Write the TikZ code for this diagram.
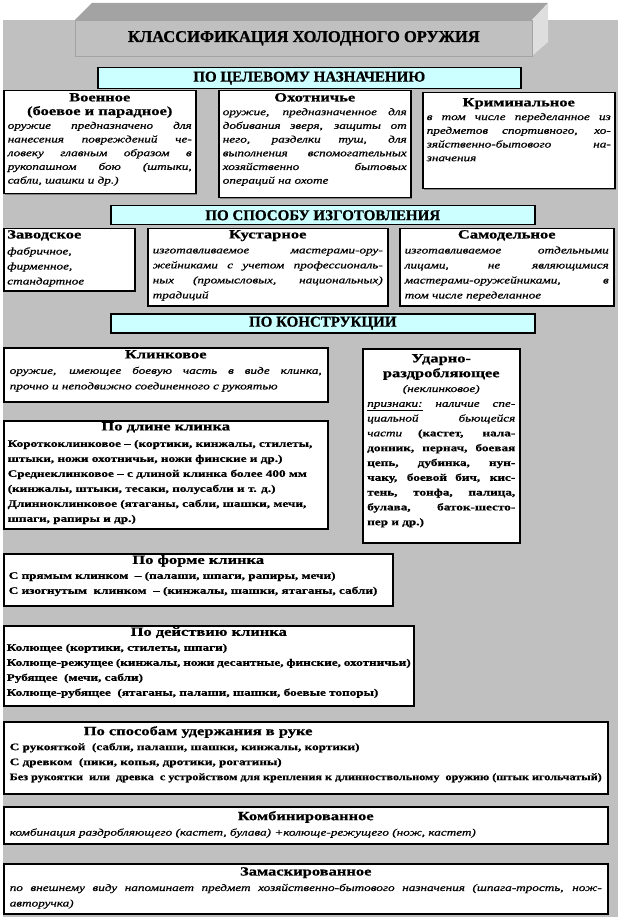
\documentclass[tikz,border=0pt]{standalone}
\usepackage{fontspec}
\usepackage{graphicx}
\setmainfont{Liberation Serif}[FakeStretch=1.32, FakeBold=0.8]
\newfontfamily\capsfont{Liberation Serif}[FakeBold=0.8]
\usetikzlibrary{positioning,shadows}

\definecolor{bggray}{HTML}{C0C0C0}
\definecolor{bandcyan}{HTML}{CCFFFF}
\definecolor{titletop}{HTML}{A3A3A3}
\definecolor{titleside}{HTML}{DEDEDE}
\definecolor{shadegray}{HTML}{808080}

\newcommand{\headfont}{\bfseries\fontsize{12.5}{14}\selectfont}
\newcommand{\bodyfont}{\fontsize{10}{13.7}\selectfont}
\newcommand{\headline}[1]{\centerline{\headfont #1}}

\tikzset{
  panel/.style={draw=black, line width=1.5pt, fill=white, anchor=north west, inner sep=0pt,
    drop shadow={shadow xshift=1.5pt, shadow yshift=-1.5pt, fill=shadegray, opacity=1}},
  band/.style={draw=black, line width=1.5pt, fill=bandcyan, anchor=north west, inner sep=0pt,
    font=\capsfont\bfseries\fontsize{15}{16}\selectfont},
  panelbody/.style={anchor=north, inner sep=0pt, align=justify, font=\bodyfont},
  listbody/.style={panelbody, font=\fontsize{10}{15}\selectfont},
}

\begin{document}
\begin{tikzpicture}[x=1pt,y=-1pt]
  \useasboundingbox (0,0) rectangle (618,917);
  \fill[bggray] (3,20) rectangle (618,917);

  % title block
  \fill[titletop] (75,20) -- (92,3) -- (548,3) -- (532,20) -- cycle;
  \fill[titleside] (532,20) -- (548,3) -- (548,42) -- (532,56) -- cycle;
  \node[draw=titletop, line width=0.6pt, fill=bggray, anchor=north west, inner sep=0pt,
    minimum width=457pt, minimum height=36pt, font=\capsfont\bfseries\fontsize{16.5}{18}\selectfont]
    (title) at (75,20) {КЛАССИФИКАЦИЯ ХОЛОДНОГО ОРУЖИЯ};

  % purpose
  \node[band, minimum width=423pt, minimum height=21pt] (purpose) at (97,67) {ПО ЦЕЛЕВОМУ НАЗНАЧЕНИЮ};

  \node[panel, minimum width=192pt, minimum height=103pt] (military) at (3,90) {};
  \node[panelbody, text width=184pt, below=3pt of military.north] (militarytext) {%
    \headline{Военное}
    \headline{(боевое и парадное)}
    \itshape оружие предназначено для\linebreak нанесения повреждений че-\linebreak ловеку главным образом в\linebreak
    рукопашном бою (штыки,\linebreak сабли, шашки и др.)};

  \node[panel, minimum width=192pt, minimum height=107pt] (hunting) at (218,90) {};
  \node[panelbody, text width=184pt, below=3pt of hunting.north] (huntingtext) {%
    \headline{Охотничье}
    \itshape оружие, предназначенное для\linebreak добивания зверя, защиты от\linebreak него, разделки туш, для\linebreak
    выполнения вспомогательных\linebreak хозяйственно бытовых\linebreak операций на охоте};

  \node[panel, minimum width=192pt, minimum height=96pt] (criminal) at (422,92) {};
  \node[panelbody, text width=184pt, below=6pt of criminal.north] (criminaltext) {%
    \headline{Криминальное}
    \itshape в том числе переделанное из\linebreak предметов спортивного, хо-\linebreak зяйственно-бытового на-\linebreak значения};

  % manufacture
  \node[band, minimum width=424pt, minimum height=19pt] (making) at (110,205) {ПО СПОСОБУ ИЗГОТОВЛЕНИЯ};

  \node[panel, minimum width=131pt, minimum height=62pt] (factory) at (3,228) {};
  \node[panelbody, align=left, font=\fontsize{10}{15}\selectfont, text width=124pt, below=2pt of factory.north] (factorytext) {%
    {\headfont Заводское}\\[1pt]
    \itshape фабричное,\\ фирменное,\\ стандартное};

  \node[panel, minimum width=240pt, minimum height=77pt] (craft) at (147,228) {};
  \node[panelbody, font=\fontsize{10}{15}\selectfont, text width=230pt, below=2pt of craft.north] (crafttext) {%
    \headline{Кустарное}
    \itshape изготавливаемое мастерами-ору-\linebreak жейниками с учетом профессиональ-\linebreak
    ных (промысловых, национальных)\linebreak традиций};

  \node[panel, minimum width=214pt, minimum height=77pt] (homemade) at (399,228) {};
  \node[panelbody, font=\fontsize{10}{15}\selectfont, text width=204pt, below=2pt of homemade.north] (homemadetext) {%
    \headline{Самодельное}
    \itshape изготавливаемое отдельными\linebreak лицами, не являющимися\linebreak
    мастерами-оружейниками, в\linebreak том числе переделанное};

  % construction
  \node[band, minimum width=424pt, minimum height=19pt] (design) at (110,313) {ПО КОНСТРУКЦИИ};

  \node[panel, minimum width=324pt, minimum height=54pt] (blade) at (3,347) {};
  \node[panelbody, font=\fontsize{10}{15.5}\selectfont, text width=312pt, below=3pt of blade.north] (bladetext) {%
    \headline{Клинковое}
    \itshape оружие, имеющее боевую часть в виде клинка,\linebreak прочно и неподвижно соединенного с рукоятью};

  \node[panel, minimum width=157pt, minimum height=194pt] (impact) at (362,348) {};
  \node[panelbody, font=\fontsize{10}{14.8}\selectfont, text width=148pt, below=6pt of impact.north] (impacttext) {%
    \headline{Ударно-}
    \headline{раздробляющее}
    \centerline{\itshape (неклинковое)}
    {\itshape\underline{признаки:} наличие спе-\linebreak циальной бьющейся\linebreak части}
    \bfseries (кастет, нала-\linebreak донник, пернач, боевая\linebreak цепь, дубинка, нун-\linebreak
    чаку, боевой бич, кис-\linebreak тень, тонфа, палица,\linebreak булава, баток-шесто-\linebreak пер и др.)};

  \node[panel, minimum width=324pt, minimum height=108pt] (length) at (3,420) {};
  \node[listbody, text width=316pt, below=2pt of length.north] (lengthtext) {%
    \headline{По длине клинка}\vspace{1.5pt}
    \bfseries Короткоклинковое – (кортики, кинжалы, стилеты,\\ штыки, ножи охотничьи, ножи финские и др.)\\
    Среднеклинковое – с длиной клинка более 400 мм\\ (кинжалы, штыки, тесаки, полусабли и т. д.)\\
    Длинноклинковое (ятаганы, сабли, шашки, мечи,\\ шпаги, рапиры и др.)};

  \node[panel, minimum width=389pt, minimum height=52pt] (shape) at (3,553) {};
  \node[listbody, text width=379pt, below=2pt of shape.north] (shapetext) {%
    \headline{По форме клинка}
    \bfseries С прямым клинком~ – (палаши, шпаги, рапиры, мечи)\\
    С изогнутым~ клинком~ – (кинжалы, шашки, ятаганы, сабли)};

  \node[panel, minimum width=410pt, minimum height=80pt] (action) at (3,625) {};
  \node[listbody, text width=404pt, below=2pt of action.north] (actiontext) {%
    \headline{По действию клинка}
    \bfseries Колющее (кортики, стилеты, шпаги)\\
    Колюще-режущее (кинжалы, ножи десантные, финские, охотничьи)\\
    Рубящее~ (мечи, сабли)\\
    Колюще-рубящее~ (ятаганы, палаши, шашки, боевые топоры)};

  \node[panel, minimum width=604pt, minimum height=72pt] (grip) at (3,721) {};
  \node[panelbody, font=\fontsize{10}{15}\selectfont, text width=592pt, below=5pt of grip.north] (griptext) {%
    \hspace*{74pt}{\headfont По способам удержания в руке}\\
    \bfseries С рукояткой~ (сабли, палаши, шашки, кинжалы, кортики)\\
    С древком~ (пики, копья, дротики, рогатины)\\
    \resizebox{\linewidth}{\height}{Без рукоятки~ или~ древка~ с устройством для крепления к длинноствольному~ оружию (штык игольчатый)}};

  \node[panel, minimum width=604pt, minimum height=37pt] (combined) at (3,806) {};
  \node[panelbody, font=\fontsize{10}{15.5}\selectfont, text width=592pt, below=5pt of combined.north] (combinedtext) {%
    \headline{Комбинированное}
    \itshape комбинация раздробляющего (кастет, булава) +колюще-режущего (нож, кастет)};

  \node[panel, minimum width=604pt, minimum height=50pt] (disguised) at (3,863) {};
  \node[panelbody, font=\fontsize{10}{15.5}\selectfont, text width=592pt, below=4pt of disguised.north] (disguisedtext) {%
    \headline{Замаскированное}
    \itshape по внешнему виду напоминает предмет хозяйственно-бытового назначения (шпага-трость, нож-\linebreak авторучка)};
\end{tikzpicture}
\end{document}
